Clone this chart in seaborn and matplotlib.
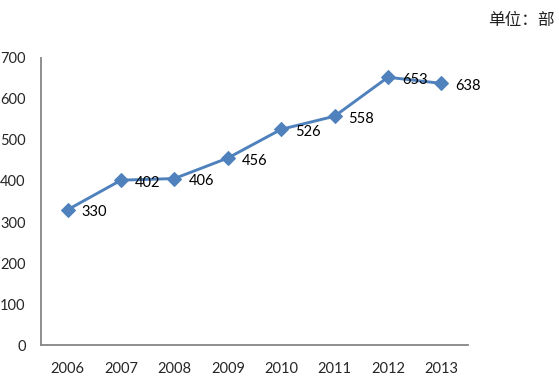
import seaborn as sns
import matplotlib.pyplot as plt
import pandas as pd

years = ["2006", "2007", "2008", "2009", "2010", "2011", "2012", "2013"]
counts = [330, 402, 406, 456, 526, 558, 653, 638]
unit_label = "单位：部"

sns.set_style("white")
plt.rcParams["font.family"] = ["Lato", "DejaVu Sans"]

df = pd.DataFrame({"pos": range(len(years)), "year": years, "count": counts})

fig = plt.figure(figsize=(5.59, 3.89), dpi=100)
ax = fig.add_axes([0.0733, 0.113, 0.764, 0.738])

blue = "#4F81BD"
sns.lineplot(data=df, x="pos", y="count", ax=ax, color=blue, linewidth=2.1,
             marker="D", markersize=7.5, markeredgecolor=blue, markerfacecolor=blue)

# value labels to the right of each point
for p, v in zip(df["pos"], df["count"]):
    ax.annotate(str(v), (p, v), xytext=(10, -2), textcoords="offset points",
                ha="left", va="center", fontsize=10.5, color="black")

ax.set_xlim(-0.5, len(years) - 0.5)
ax.set_ylim(0, 700)
ax.set_yticks(range(0, 701, 100))
ax.set_xticks([i - 0.5 for i in range(len(years) + 1)])
ax.set_xticklabels([])
ax.set_xticks(range(len(years)), minor=True)
ax.set_xticklabels(years, minor=True)
ax.tick_params(axis="x", which="major", length=3, width=1.2, color="#868686", direction="out")
ax.tick_params(axis="x", which="minor", length=0, pad=12, labelsize=10.5)
ax.tick_params(axis="y", length=3, width=1.2, color="#868686", direction="out", pad=8, labelsize=10.5)
ax.set_xlabel("")
ax.set_ylabel("")

sns.despine(ax=ax)
for s in ("left", "bottom"):
    ax.spines[s].set_color("#868686")
    ax.spines[s].set_linewidth(1.3)

fig.text(0.993, 0.948, unit_label, ha="right", va="center", fontsize=12,
         family=["Noto Sans CJK SC", "DejaVu Sans"], color="#222222")

fig.savefig("out.png", dpi=100)
